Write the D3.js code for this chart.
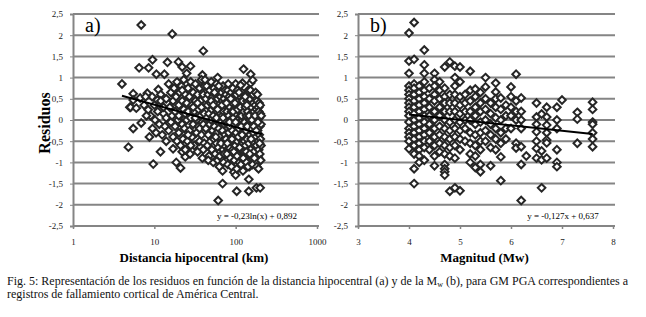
<!DOCTYPE html>
<html>
<head>
<meta charset="utf-8">
<script src="https://cdn.jsdelivr.net/npm/d3@7"></script>
<style>
  body { margin: 0; background: #fff; }
  svg { display: block; }
</style>
</head>
<body>
<script>
// residual ticks, shared by both panels
const resTicks = [-2.5, -2, -1.5, -1, -0.5, 0, 0.5, 1, 1.5, 2, 2.5];
const distTicks = [1, 10, 100, 1000];
const magTicks = [3, 4, 5, 6, 7, 8];

// fit lines: y = a*ln(x)+b  and  y = a*x+b
const fitA = [-0.23, 0.892], fitRangeA = [4, 210];
const fitB = [-0.127, 0.637], fitRangeB = [4.0, 7.6];

// panel a: [distance km, residual]
const pointsA = [
  [4.0,0.85],[6.9,2.24],[16.6,2.03],[40,1.63],[6.5,1.23],[8.5,1.23],[9.5,1.42],[14.5,1.36],[19.8,1.37],
  [22,1.25],[27.8,1.27],[25,1.1],[10.6,1.08],[13.3,1.08],[39,1.06],[60,1.0],[125,1.2],[153,1.08],[153,0.87],
  [75,0.78],[84,0.78],[100,0.85],[121,0.87],[5.5,0.62],[5.0,0.3],[5.5,-0.2],[6.9,-0.07],[4.8,-0.64],
  [9.7,-1.04],[11.9,-0.75],[14,-0.5],[17,-0.68],[18.6,-1.0],[21,-1.13],[22,-0.75],[24,-0.87],[61,-1.9],
  [69,-1.5],[103,-1.68],[145,-1.4],[145,-1.68],[180,-1.6],[200,-1.6],[185,-1.02],[95,-1.23],[69,-1.2],
  [5.5,0.47],[5.1,0.3],[6,0.28],[6.7,0.52],[8.2,0.63],[9.4,0.55],[11.2,0.72],[10.9,0.47],[8.4,0.24],
  [100,-1.3],[180,-0.67],[190,-0.88],[192,0.3],[190,0.2],[115,0.82],[162,0.94],
  // 7-14 km
  [9,0.1],[9.5,-0.2],[10,0.35],[10.2,0.0],[10.5,-0.3],[11,0.2],[11.5,-0.1],[12,0.6],[12,0.45],[12.5,-0.35],
  [13,0.15],[13,0.3],[13.5,-0.15],[14,0.5],[14,0.05],[8,0.1],[8.7,-0.4],[7.5,0.35],[7.8,0.55],
  // 14-24 km
  [15,0.85],[15,-0.25],[15.5,0.3],[16,0.65],[16,-0.05],[16.5,0.1],[17,0.45],[17,-0.4],[17.5,0.75],[18,0.2],
  [18,-0.15],[18.5,0.55],[19,-0.5],[19,0.9],[19.5,0.0],[20,0.35],[20,-0.3],[20.5,0.65],[21,0.1],[21,-0.6],
  [21.5,0.8],[22,-0.1],[22,0.45],[22.5,-0.45],[23,0.25],[23,0.95],[23.5,-0.2],[24,0.6],[24,-0.7],
  [20,0.1],[22,0.7],[24,0.15],
  // 24-42 km
  [25,0.0],[25,0.4],[25.5,-0.5],[26,0.75],[26,0.2],[27,-0.25],[27,0.55],[27.5,-0.8],[28,0.05],[28,0.9],
  [29,0.35],[29,-0.4],[30,0.65],[30,-0.1],[31,0.2],[31,-0.6],[32,0.85],[32,0.45],[33,-0.3],[33,0.0],
  [34,0.6],[34,-0.75],[35,0.25],[35,-0.15],[36,0.75],[36,-0.5],[37,0.1],[37,0.45],[38,-0.35],[38,0.95],
  [39,0.3],[39,-0.9],[40,-0.1],[40,0.6],[41,-0.55],[41,0.15],
  [26,-0.35],[28,-0.6],[30,0.3],[32,0.05],[34,0.4],[36,-0.2],[38,0.3],[40,-0.7],[41,0.8],
  // 42-75 km
  [43,0.5],[43,-0.2],[44,0.8],[44,0.05],[45,-0.6],[45,0.35],[46,-0.35],[46,0.6],[47,0.15],[47,-0.85],
  [48,0.7],[48,-0.1],[49,0.4],[49,-0.5],[50,0.9],[50,0.0],[51,-0.7],[51,0.25],[52,0.55],[52,-0.25],
  [53,-1.0],[53,0.1],[54,0.75],[54,-0.45],[55,0.3],[55,-0.15],[56,-0.8],[56,0.6],[57,0.0],[57,0.45],
  [58,-0.55],[58,0.85],[59,0.2],[59,-0.3],[60,-0.95],[60,0.5],[61,0.05],[61,-0.65],[62,0.35],[62,-0.2],
  [63,0.7],[63,-1.1],[64,-0.4],[64,0.15],[65,0.55],[65,-0.75],[66,-0.05],[66,0.3],[67,-0.9],[67,0.65],
  [68,0.1],[68,-0.5],[69,0.45],[69,-0.25],[70,-0.7],[70,0.8],[71,0.2],[71,-1.0],[72,-0.1],[72,0.5],
  [73,0.35],[73,-0.6],[74,0.0],[74,-0.35],
  [42,0.95],[46,-0.95],[50,0.45],[53,0.35],[55,0.65],[57,-0.4],[58,0.05],[60,0.25],[62,0.8],[64,-0.85],
  [66,-0.55],[68,0.35],[70,0.05],[72,-0.8],[74,0.7],
  // 75-130 km
  [76,0.6],[76,-0.45],[78,0.2],[78,-0.8],[79,-0.1],[79,0.45],[80,0.7],[80,-1.05],[82,0.1],[82,-0.3],
  [83,0.55],[83,-0.65],[85,-0.15],[85,0.3],[86,-0.9],[86,0.0],[88,0.65],[88,-0.5],[89,0.2],[89,-1.1],
  [91,-0.25],[91,0.4],[92,-0.7],[92,0.75],[94,0.05],[94,-0.4],[96,0.5],[96,-0.95],[97,-0.1],[97,0.25],
  [99,-0.6],[99,0.6],[101,0.15],[101,-0.3],[103,-1.15],[103,0.35],[105,-0.5],[105,0.7],[107,0.0],[107,-0.8],
  [109,0.45],[109,-0.2],[111,-1.0],[111,0.2],[113,0.55],[113,-0.4],[115,-0.7],[115,0.1],[117,0.35],[117,-0.15],
  [119,-0.9],[119,0.65],[121,0.0],[121,-0.55],[123,0.25],[123,-1.2],[125,-0.3],[125,0.5],[127,-0.75],[127,0.05],
  [129,0.4],[129,-0.05],
  [77,0.4],[79,-0.55],[81,0.85],[84,-0.05],[87,0.5],[90,-0.45],[93,0.2],[95,-0.75],[98,0.4],[100,-0.05],
  [102,0.6],[104,-0.85],[106,0.25],[108,-0.4],[110,0.65],[112,-0.65],[114,0.3],[116,-1.05],[118,0.1],[120,-0.35],
  [122,0.45],[124,-0.9],[126,0.2],[128,-0.5],
  // 130-210 km
  [132,-0.6],[132,0.3],[134,0.6],[134,-0.25],[136,-1.0],[136,0.1],[138,0.45],[138,-0.45],[140,-0.8],[140,0.2],
  [143,0.7],[143,-0.1],[145,-0.55],[145,0.35],[148,0.0],[148,-1.1],[150,0.5],[150,-0.35],[153,-0.7],[153,0.15],
  [156,0.3],[156,-0.2],[159,-0.9],[159,0.6],[162,0.05],[162,-0.5],[165,0.4],[165,-0.3],[168,-0.75],[168,0.2],
  [171,0.55],[171,-0.05],[174,-1.0],[174,0.35],[177,-0.4],[177,0.0],[180,0.25],[180,-0.6],[183,-0.85],[183,0.45],
  [186,0.1],[186,-0.25],[189,0.3],[189,-0.5],[192,-0.7],[192,0.2],[195,0.05],[195,-0.35],[198,-0.15],[198,-0.8],
  [201,0.15],[201,-0.45],[205,-0.1],[205,-0.6],
  [131,0.55],[135,-0.75],[137,0.35],[139,-0.15],[142,-1.1],[146,0.1],[149,-0.8],[152,0.7],[155,-0.45],[158,0.0],
  [161,-1.05],[164,0.6],[167,-0.15],[170,-0.9],[173,0.1],[176,0.65],[179,-0.25],[182,-1.1],[185,0.6],[188,-0.05],
  [191,-1.15],[194,0.4],[197,-0.55],[200,0.35],[203,-0.95],[206,0.1]
];

// panel b: magnitude columns with their residuals
const colsB = [
  [4.0, [2.05,1.39,1.1,0.8,0.7,0.6,0.5,0.4,0.3,0.2,0.1,-0.05,-0.2,-0.3,-0.4,-0.5,-0.68]],
  [4.1, [2.3,1.43,0.85,0.75,0.6,0.45,0.3,0.15,0.0,-0.15,-0.3,-0.45,-0.6,-0.8,-1.15,-1.5]],
  [4.2, [0.8,0.65,0.5,0.35,0.2,0.05,-0.1,-0.25,-0.4,-0.55,-0.7,-0.85,-1.0]],
  [4.3, [1.65,1.3,1.1,0.9,0.7,0.55,0.4,0.25,0.1,-0.05,-0.2,-0.35,-0.5,-0.65,-0.95]],
  [4.4, [0.75,0.5,0.3,0.1,-0.1,-0.3,-0.5,-0.7]],
  [4.5, [1.1,0.95,0.8,0.6,0.45,0.2,0.0,-0.2,-0.4,-0.6,-0.85,-1.08]],
  [4.6, [0.9,0.7,0.5,0.3,0.1,-0.15,-0.35,-0.55,-0.75]],
  [4.7, [1.25,0.75,0.55,0.4,0.2,0.0,-0.2,-0.4,-0.6,-0.8,-1.05,-1.15,-1.22,-1.3]],
  [4.8, [1.37,0.6,0.4,0.2,-0.05,-0.25,-0.45,-0.65,-0.85,-1.68]],
  [4.9, [1.27,1.0,0.8,0.6,0.4,0.2,0.0,-0.2,-0.4,-0.6,-0.9,-1.6]],
  [5.0, [1.25,0.9,0.55,0.35,0.15,-0.05,-0.25,-0.45,-0.7,-1.67]],
  [5.1, [0.6,0.4,0.2,0.0,-0.2,-0.5]],
  [5.2, [1.15,0.7,0.45,0.2,0.0,-0.3,-0.55,-0.8,-1.0]],
  [5.3, [0.73,0.55,0.3,0.1,-0.1,-0.35,-0.6,-0.85,-1.12]],
  [5.4, [0.65,0.4,0.2,-0.05,-0.3,-0.5,-0.7,-1.05,-1.22]],
  [5.5, [1.0,0.78,0.5,0.25,0.0,-0.25,-0.5]],
  [5.6, [0.4,0.15,-0.1,-0.35,-0.65,-1.08]],
  [5.7, [0.87,0.66,0.5,0.3,0.05,-0.2,-0.45,-0.7]],
  [5.8, [0.52,0.25,0.0,-0.3,-0.55,-0.87,-1.43]],
  [5.9, [0.35,0.1,-0.2,-0.45]],
  [6.0, [0.78,0.55,0.3,0.1,-0.2]],
  [6.1, [1.08,0.45,0.2,0.0,-0.55,-0.66]],
  [6.2, [0.52,0.2,0.0,-0.2,-0.63,-1.05,-1.9]],
  [6.3, [-0.85]],
  [6.5, [0.4,0.07,-0.1,-0.28,-0.5,-0.67,-0.9]],
  [6.6, [0.14,-0.73,-0.94,-1.6]],
  [6.7, [0.3,0.07,-0.12,-0.3,-0.47,-0.54,-0.9]],
  [6.9, [0.3,0.0,-0.2,-0.7,-1.0,-1.1]],
  [7.0, [0.47]],
  [7.3, [0.18,0.02,-0.55]],
  [7.6, [0.42,0.25,-0.05,-0.1,-0.3,-0.45,-0.63]]
];
const pointsB = colsB.flatMap(([m, vals]) => vals.map(v => [m, v]));

const serif = "Liberation Serif";

const svg = d3.select("body").append("svg")
  .attr("width", 646).attr("height", 317)
  .attr("font-family", serif);

const y = d3.scaleLinear().domain([-2.5, 2.5]).range([226, 14]);
const xA = d3.scaleLog().domain([1, 1000]).range([73, 317]);
const xB = d3.scaleLinear().domain([3, 8]).range([358, 613]);

const fmt = d => String(d).replace(".", ",");
const diamond = "M0,-3.8L3.8,0L0,3.8L-3.8,0Z";

function panel(x, xTicks, pts, fitY, fitRange, label, eq, eqX, xTitle) {
  const g = svg.append("g");
  const [x0, x1] = x.range();

  // horizontal grid
  g.selectAll(".grid").data(resTicks.filter(t => t > -2.5)).enter().append("line")
    .attr("x1", x0).attr("x2", x1 + 2)
    .attr("y1", d => y(d)).attr("y2", d => y(d))
    .attr("stroke", "#858585").attr("stroke-width", 2);

  // y axis
  const ya = g.append("g").attr("transform", `translate(${x0},0)`)
    .call(d3.axisLeft(y).tickValues(resTicks).tickFormat(fmt).tickSize(3).tickPadding(7));
  ya.attr("font-family", serif);
  ya.select(".domain").attr("stroke", "#858585").attr("stroke-width", 2);
  ya.selectAll(".tick line").attr("stroke", "#858585");
  ya.selectAll("text").attr("font-size", 9).attr("fill", "#222");

  // x axis
  const xa = g.append("g").attr("transform", `translate(0,${y(-2.5)})`)
    .call(d3.axisBottom(x).tickValues(xTicks).tickFormat(d => String(d)).tickSize(3).tickPadding(10));
  xa.attr("font-family", serif);
  xa.select(".domain").attr("stroke", "#858585").attr("stroke-width", 2)
    .attr("d", `M${x0},0H${x1 + 2}`);
  xa.selectAll(".tick line").attr("stroke", "#858585").attr("stroke-width", 1.5);
  xa.selectAll("text").attr("font-size", 9).attr("fill", "#222");

  // points
  g.selectAll(".pt").data(pts).enter().append("path")
    .attr("d", diamond)
    .attr("transform", d => `translate(${x(d[0])},${y(d[1])})`)
    .attr("fill", "#fff").attr("stroke", "#262626").attr("stroke-width", 2);

  // trend line
  g.append("line")
    .attr("x1", x(fitRange[0])).attr("y1", y(fitY(fitRange[0])))
    .attr("x2", x(fitRange[1])).attr("y2", y(fitY(fitRange[1])))
    .attr("stroke", "#000").attr("stroke-width", 2);

  g.append("text").attr("x", x0 + 12).attr("y", 32)
    .attr("font-size", 20).text(label);

  g.append("text").attr("x", eqX).attr("y", 219)
    .attr("font-size", 9).attr("text-anchor", "middle").text(eq);

  g.append("text").attr("x", (x0 + x1) / 2 - 1).attr("y", 262)
    .attr("font-size", 13).attr("font-weight", "bold").attr("text-anchor", "middle").text(xTitle);
}

panel(xA, distTicks, pointsA, v => fitA[0] * Math.log(v) + fitA[1], fitRangeA,
  "a)", "y = -0,23ln(x) + 0,892", 257, "Distancia hipocentral (km)");
panel(xB, magTicks, pointsB, v => fitB[0] * v + fitB[1], fitRangeB,
  "b)", "y = -0,127x + 0,637", 563, "Magnitud (Mw)");

svg.append("text")
  .attr("transform", `translate(50,123) rotate(-90)`)
  .attr("text-anchor", "middle").attr("font-size", 16).attr("font-weight", "bold")
  .text("Residuos");

// caption
const cap = svg.append("g").attr("font-size", 12).attr("fill", "#111");
const l1 = cap.append("text").attr("x", 7).attr("y", 285);
l1.append("tspan").text("Fig. 5: Representación de los residuos en función de la distancia hipocentral (a) y de la M");
l1.append("tspan").attr("font-size", 8).attr("dy", 2).text("w");
l1.append("tspan").attr("dy", -2).text(" (b), para GM PGA correspondientes a");
cap.append("text").attr("x", 7).attr("y", 298)
  .text("registros de fallamiento cortical de América Central.");
</script>
</body>
</html>
